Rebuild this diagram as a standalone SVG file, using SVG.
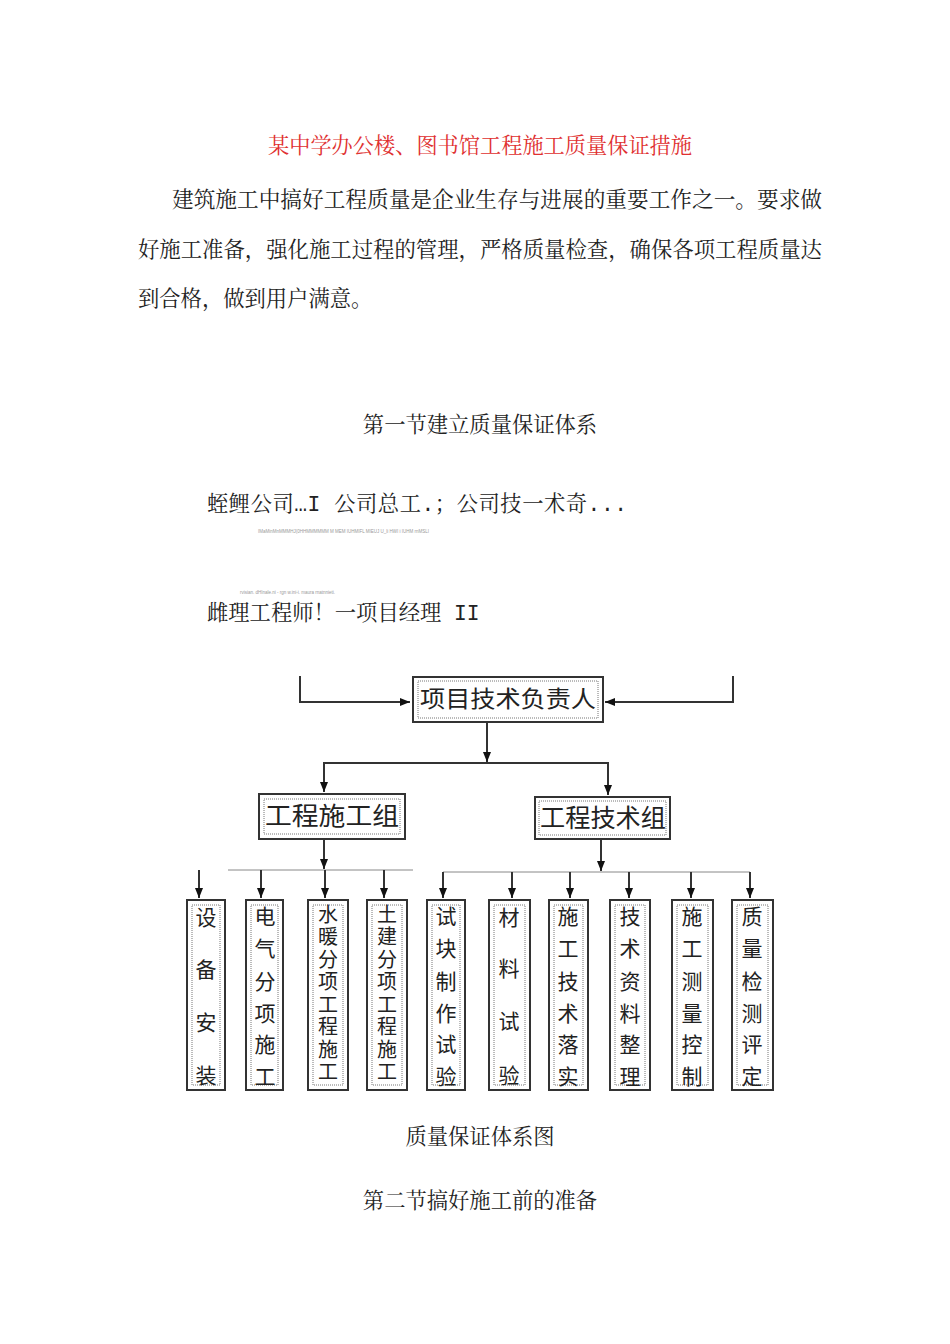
<svg xmlns="http://www.w3.org/2000/svg" width="950" height="1344" viewBox="0 0 950 1344">
<style>
.t{font-family:"Noto Serif CJK SC","Noto Sans CJK SC",serif;font-size:21.3px;fill:#222}
.m{font-family:"Liberation Mono",monospace}
.tiny{font-family:"Liberation Sans",sans-serif;font-size:4.5px;fill:#999}
.box{fill:#fff;stroke:#333;stroke-width:2}
.inner{fill:none;stroke:#777;stroke-width:1;stroke-dasharray:1 1}
.bt{font-family:"Noto Sans CJK SC",sans-serif;fill:#222;dominant-baseline:central;text-anchor:middle}
.v{font-family:"Noto Sans CJK SC",sans-serif;font-size:21px;fill:#222;dominant-baseline:central;text-anchor:middle}
.vv{font-family:"Noto Sans CJK SC",sans-serif;font-size:20px;fill:#222;writing-mode:vertical-rl;text-orientation:upright;letter-spacing:2.5px}
.c{fill:none;stroke:#333;stroke-width:2}
.bus{fill:none;stroke:#888;stroke-width:1}
</style>
<defs>
<marker id="ar" markerUnits="userSpaceOnUse" markerWidth="10" markerHeight="10" refX="10" refY="5" orient="auto">
<path d="M0,1 L10,5 L0,9 Z" fill="#111"/>
</marker>
</defs>
<rect width="950" height="1344" fill="#fff"/>
<g id="text">
<text class="t" x="480" y="153" text-anchor="middle" style="fill:#e03030" textLength="424" lengthAdjust="spacingAndGlyphs">某中学办公楼、图书馆工程施工质量保证措施</text>
<text class="t" x="172" y="207" textLength="650" lengthAdjust="spacingAndGlyphs">建筑施工中搞好工程质量是企业生存与进展的重要工作之一。要求做</text>
<text class="t" x="138" y="257" textLength="684" lengthAdjust="spacingAndGlyphs">好施工准备，强化施工过程的管理，严格质量检查，确保各项工程质量达</text>
<text class="t" x="138" y="306">到合格，做到用户满意。</text>
<text class="t" x="480" y="432" text-anchor="middle">第一节建立质量保证体系</text>
<text class="t" x="207" y="511" textLength="420" lengthAdjust="spacing">蛭鲤公司<tspan class="m">…I  </tspan>公司总工<tspan class="m">.</tspan>；公司技一术奇<tspan class="m">...</tspan></text>
<text class="tiny" x="258" y="533">IMaMinMnMMMHJ(0HHMMMMMM M MEM IUHMIFL MIEUJ U_li HWI i IUHM rnMSLI</text>
<text class="tiny" x="240" y="594">rvisian. dHInale.ni - rgn w.ini-i. maura rnatnnieti.</text>
<text class="t" x="207" y="620">雌理工程师！一项目经理<tspan class="m"> II</tspan></text>
<text class="t" x="480" y="1144" text-anchor="middle">质量保证体系图</text>
<text class="t" x="480" y="1208" text-anchor="middle">第二节搞好施工前的准备</text>
</g>
<g id="connectors">
<path class="c" d="M300,676 V702 H410" marker-end="url(#ar)"/>
<path class="c" d="M733,676 V702 H605" marker-end="url(#ar)"/>
<path class="c" d="M487,722 V762" marker-end="url(#ar)"/>
<path class="c" d="M324,792 V763 H608 V795" marker-end="url(#ar)"/>
<path class="c" d="M324,763 V792" marker-end="url(#ar)"/>
<path class="c" d="M324,840 V869" marker-end="url(#ar)"/>
<path class="bus" d="M228,870 H413"/>
<path class="c" d="M199,870 V898" marker-end="url(#ar)"/>
<path class="c" d="M261,870 V898" marker-end="url(#ar)"/>
<path class="c" d="M325,870 V898" marker-end="url(#ar)"/>
<path class="c" d="M384,870 V898" marker-end="url(#ar)"/>
<path class="c" d="M601,840 V871" marker-end="url(#ar)"/>
<path class="bus" d="M443,872 H750"/>
<path class="c" d="M443,872 V898" marker-end="url(#ar)"/>
<path class="c" d="M512,872 V898" marker-end="url(#ar)"/>
<path class="c" d="M570,872 V898" marker-end="url(#ar)"/>
<path class="c" d="M629,872 V898" marker-end="url(#ar)"/>
<path class="c" d="M691,872 V898" marker-end="url(#ar)"/>
<path class="c" d="M750,872 V898" marker-end="url(#ar)"/>
</g>
<g id="n-top">
<rect class="box" x="413" y="677" width="190" height="45"/>
<rect class="inner" x="418" y="681" width="180" height="37"/>
<text class="bt" x="508" y="697" font-size="23" textLength="176" lengthAdjust="spacingAndGlyphs">项目技术负责人</text>
</g>
<g id="n-sg">
<rect class="box" x="259" y="794" width="146" height="45"/>
<rect class="inner" x="264" y="799" width="136" height="35"/>
<text class="bt" x="332" y="814" font-size="25" textLength="134" lengthAdjust="spacingAndGlyphs">工程施工组</text>
</g>
<g id="n-jg">
<rect class="box" x="535" y="797" width="135" height="42"/>
<rect class="inner" x="539" y="801" width="127" height="34"/>
<text class="bt" x="603" y="816" font-size="25" textLength="126" lengthAdjust="spacingAndGlyphs">工程技术组</text>
</g>
<g id="n1">
<rect class="box" x="187" y="900" width="38" height="190"/>
<rect class="inner" x="192" y="905" width="28" height="180"/>
<text class="v"><tspan x="206" y="916">设</tspan><tspan x="206" y="968">备</tspan><tspan x="206" y="1021">安</tspan><tspan x="206" y="1074">装</tspan></text>
</g>
<g id="n2">
<rect class="box" x="246" y="900" width="37" height="190"/>
<rect class="inner" x="251" y="905" width="27" height="180"/>
<text class="v"><tspan x="265" y="915">电</tspan><tspan x="265" y="947">气</tspan><tspan x="265" y="980">分</tspan><tspan x="265" y="1012">项</tspan><tspan x="265" y="1043">施</tspan><tspan x="265" y="1075">工</tspan></text>
</g>
<g id="n3">
<rect class="box" x="308" y="900" width="40" height="190"/>
<rect class="inner" x="313" y="905" width="30" height="180"/>
<text class="vv" x="328" y="904">水暖分项工程施工</text>
</g>
<g id="n4">
<rect class="box" x="367" y="900" width="40" height="190"/>
<rect class="inner" x="372" y="905" width="30" height="180"/>
<text class="vv" x="387" y="904">土建分项工程施工</text>
</g>
<g id="n5">
<rect class="box" x="427" y="900" width="38" height="190"/>
<rect class="inner" x="432" y="905" width="28" height="180"/>
<text class="v"><tspan x="446" y="915">试</tspan><tspan x="446" y="947">块</tspan><tspan x="446" y="980">制</tspan><tspan x="446" y="1012">作</tspan><tspan x="446" y="1043">试</tspan><tspan x="446" y="1075">验</tspan></text>
</g>
<g id="n6">
<rect class="box" x="489" y="900" width="41" height="190"/>
<rect class="inner" x="494" y="905" width="31" height="180"/>
<text class="v"><tspan x="509" y="916">材</tspan><tspan x="509" y="967">料</tspan><tspan x="509" y="1020">试</tspan><tspan x="509" y="1074">验</tspan></text>
</g>
<g id="n7">
<rect class="box" x="549" y="900" width="39" height="190"/>
<rect class="inner" x="554" y="905" width="29" height="180"/>
<text class="v"><tspan x="568" y="915">施</tspan><tspan x="568" y="947">工</tspan><tspan x="568" y="980">技</tspan><tspan x="568" y="1012">术</tspan><tspan x="568" y="1043">落</tspan><tspan x="568" y="1075">实</tspan></text>
</g>
<g id="n8">
<rect class="box" x="610" y="900" width="40" height="190"/>
<rect class="inner" x="615" y="905" width="30" height="180"/>
<text class="v"><tspan x="630" y="915">技</tspan><tspan x="630" y="947">术</tspan><tspan x="630" y="980">资</tspan><tspan x="630" y="1012">料</tspan><tspan x="630" y="1043">整</tspan><tspan x="630" y="1075">理</tspan></text>
</g>
<g id="n9">
<rect class="box" x="672" y="900" width="41" height="190"/>
<rect class="inner" x="677" y="905" width="31" height="180"/>
<text class="v"><tspan x="692" y="915">施</tspan><tspan x="692" y="947">工</tspan><tspan x="692" y="980">测</tspan><tspan x="692" y="1012">量</tspan><tspan x="692" y="1043">控</tspan><tspan x="692" y="1075">制</tspan></text>
</g>
<g id="n10">
<rect class="box" x="732" y="900" width="41" height="190"/>
<rect class="inner" x="737" y="905" width="31" height="180"/>
<text class="v"><tspan x="752" y="915">质</tspan><tspan x="752" y="947">量</tspan><tspan x="752" y="980">检</tspan><tspan x="752" y="1012">测</tspan><tspan x="752" y="1043">评</tspan><tspan x="752" y="1075">定</tspan></text>
</g>
</svg>
